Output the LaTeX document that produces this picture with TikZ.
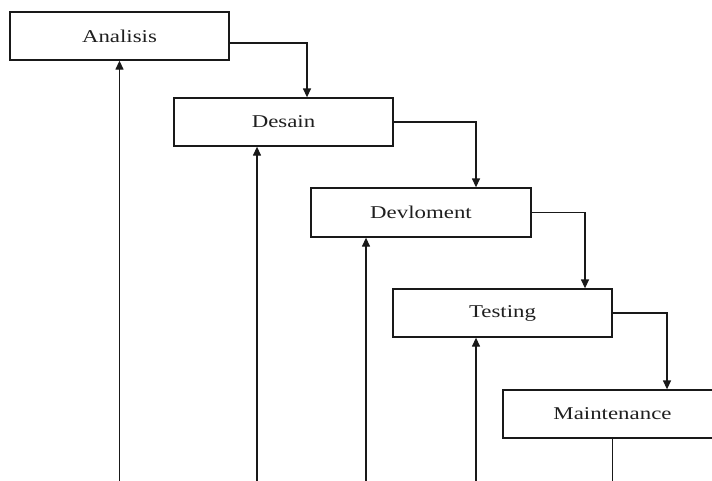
\documentclass[tikz,border=0pt]{standalone}
\usepackage{fontspec}
\setmainfont{Liberation Serif}[FakeStretch=1.27]
\usetikzlibrary{arrows.meta}
\begin{document}
\begin{tikzpicture}[x=1pt,y=-1pt,
  box/.style={draw=black!90, line width=1.3pt, minimum width=219pt, minimum height=48pt, inner sep=0pt, font=\fontsize{18}{20}\selectfont, text=black!88},
  conn/.style={draw=black!90, line width=1.3pt, -{Triangle[length=9pt,width=8pt]}},
  plainline/.style={draw=black!90, line width=1.3pt}]
\useasboundingbox (0,0) rectangle (712,480);
\clip (0,0) rectangle (712,480);
\node[box] (A) at (119.5,36) {Analisis};
\node[box] (D) at (283.5,122) {Desain};
\node[box, minimum width=220pt, minimum height=49pt] (V) at (421,212.5) {Devloment};
\node[box] (T) at (502.5,313) {Testing};
\node[box] (M) at (612.5,414) {Maintenance};
% forward flow
\draw[conn] ([yshift=-7pt]A.east) -| ([xshift=23.5pt]D.north);
\draw[conn] (D.east) -| ([xshift=55pt]V.north);
\draw[conn] (V.east) -| ([xshift=82.5pt]T.north);
\draw[conn] (T.east) -| ([xshift=54.5pt]M.north);
% feedback lines from bottom
\coordinate (bA) at (119.5,481);
\coordinate (bD) at (257,481);
\coordinate (bV) at (366,481);
\coordinate (bT) at (476,481);
\coordinate (bM) at (612.5,481);
\draw[conn] (bA) -- (A.south);
\draw[conn] (bD) -- (bD |- D.south);
\draw[conn] (bV) -- (bV |- V.south);
\draw[conn] (bT) -- (bT |- T.south);
\draw[plainline] (M.south) -- (bM);
\end{tikzpicture}
\end{document}
